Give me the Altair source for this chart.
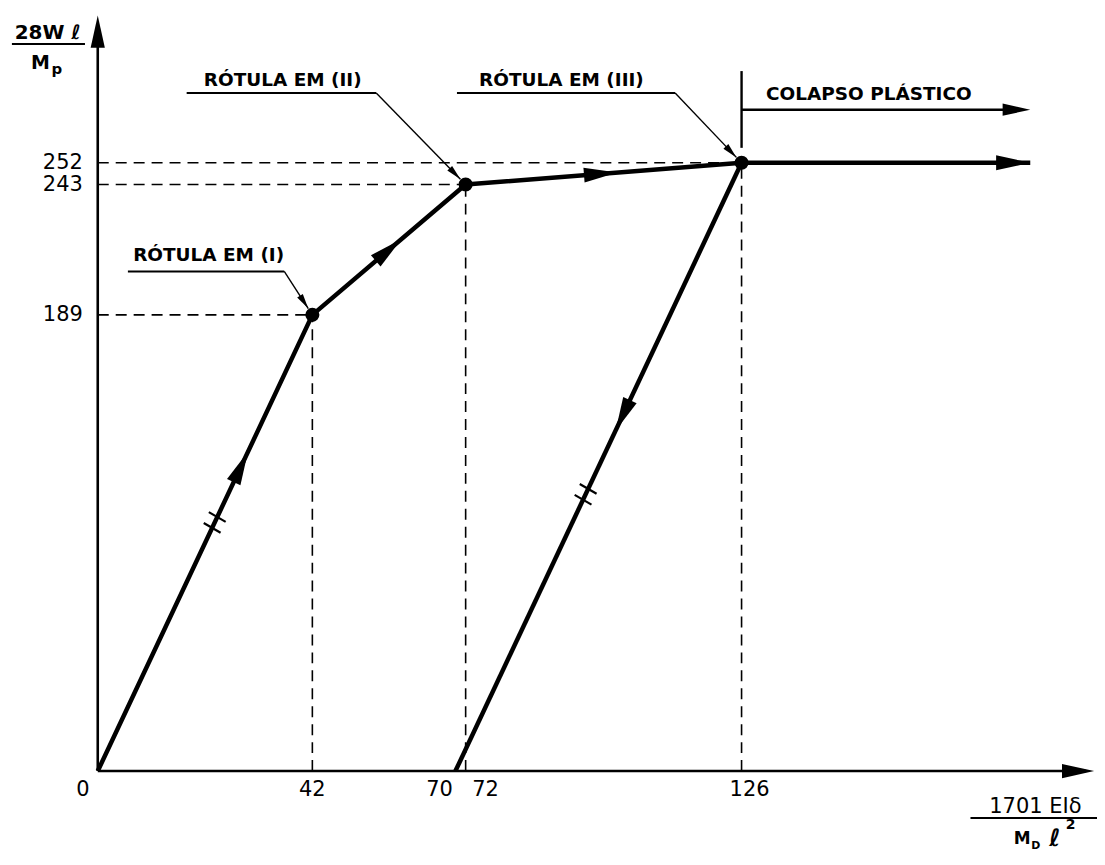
import altair as alt
import pandas as pd
import numpy as np

# ---------------- data ----------------
load_x = [0, 42, 72, 126, 182.5]          # loading path (hinges I, II, III, then plastic collapse)
load_y = [0, 189, 243, 252, 252]
unload_x = [126, 70]                       # elastic unloading line
unload_y = [252, 0]
hinge_x = [42, 72, 126]
hinge_y = [189, 243, 252]
x_ticks = [0, 42, 70, 72, 126]
x_tick_labels = ["0", "42", "70", "72", "126"]
y_ticks = [189, 243, 252]
y_tick_labels = ["189", "243", "252"]
hinge_labels = ["RÓTULA EM (I)", "RÓTULA EM (II)", "RÓTULA EM (III)"]
collapse_label = "COLAPSO PLÁSTICO"
x_axis_end = 195
y_axis_end = 313
collapse_level = 274

# ---------------- layout / style ----------------
X_MAX, Y_MAX = 194, 314
W, H = 994, 760
SX, SY = W / X_MAX, H / Y_MAX
PAD = {"left": 90, "top": 4, "right": 8, "bottom": 82}
FONT = "DejaVu Sans"
ARROW = "M0,0L-0.42,1.9L0.42,1.9Z"      # tip at the anchor point
SLASH = "M-1,0L1,0"

xs = alt.Scale(domain=[0, X_MAX], nice=False, zero=False)
ys = alt.Scale(domain=[0, Y_MAX], nice=False, zero=False)


def px2x(p):
    return p / SX


def px2y(p):
    return p / SY


def ang(dx, dy):
    return float(np.degrees(np.arctan2(dx * SX, dy * SY)) % 360)


def rules(df, **kw):
    return alt.Chart(df).mark_rule(color="black", **kw).encode(
        x=alt.X("x:Q", scale=xs, axis=None), y=alt.Y("y:Q", scale=ys, axis=None),
        x2="x2:Q", y2="y2:Q")


def texts(df, **kw):
    base = dict(font=FONT, color="black", align="center", baseline="middle")
    base.update(kw)
    return alt.Chart(df).mark_text(**base).encode(
        x=alt.X("x:Q", scale=xs, axis=None), y=alt.Y("y:Q", scale=ys, axis=None), text="t:N")


layers = []

# dashed guide lines
g = []
for hx, hy in zip(hinge_x, hinge_y):
    g.append(dict(x=0, y=hy, x2=hx, y2=hy))
    g.append(dict(x=hx, y=0, x2=hx, y2=hy))
layers.append(rules(pd.DataFrame(g), strokeWidth=1.6, strokeDash=[11, 7]))

# axes
ax = pd.DataFrame([dict(x=0, y=0, x2=x_axis_end - px2x(8), y2=0),
                   dict(x=0, y=0, x2=0, y2=y_axis_end - px2y(8))])
layers.append(rules(ax, strokeWidth=2.6))

# loading path
ld = pd.DataFrame({"x": load_x, "y": load_y, "o": range(len(load_x))})
layers.append(alt.Chart(ld).mark_line(color="black", strokeWidth=4.5, strokeJoin="round").encode(
    x=alt.X("x:Q", scale=xs, axis=None), y=alt.Y("y:Q", scale=ys, axis=None), order="o:Q"))
# unloading
ul = pd.DataFrame({"x": unload_x, "y": unload_y, "o": range(len(unload_x))})
layers.append(alt.Chart(ul).mark_line(color="black", strokeWidth=4.5).encode(
    x=alt.X("x:Q", scale=xs, axis=None), y=alt.Y("y:Q", scale=ys, axis=None), order="o:Q"))

# hinge dots
layers.append(alt.Chart(pd.DataFrame({"x": hinge_x, "y": hinge_y})).mark_circle(
    color="black", size=200, opacity=1).encode(
    x=alt.X("x:Q", scale=xs, axis=None), y=alt.Y("y:Q", scale=ys, axis=None)))

# arrowheads along the path
ah = []
for (x0, y0, x1, y1, t) in [(0, 0, 42, 189, 0.70), (42, 189, 72, 243, 0.58),
                            (72, 243, 126, 252, 0.55), (126, 252, 70, 0, 0.44)]:
    ah.append(dict(x=x0 + t * (x1 - x0), y=y0 + t * (y1 - y0), a=ang(x1 - x0, y1 - y0), s=1250))
ah.append(dict(x=load_x[-1], y=load_y[-1], a=90.0, s=1300))
ah.append(dict(x=x_axis_end, y=0, a=90.0, s=1150))
ah.append(dict(x=0, y=y_axis_end, a=0.0, s=1150))
ah.append(dict(x=load_x[-1], y=collapse_level, a=90.0, s=850))

# hinge annotations (text, underline, leader)
ann_text = [(21.7, 213.6), (36.2, 286.3), (90.75, 286.3)]
ann_line = [(5.9, 36.5, 207.0), (17.4, 54.5, 280.9), (70.3, 113.0, 280.9)]
ul_rows, ld_rows, tx_rows = [], [], []
for lab, (tx, ty), (ua, ub, uy), hx, hy in zip(hinge_labels, ann_text, ann_line, hinge_x, hinge_y):
    tx_rows.append(dict(x=tx, y=ty, t=lab))
    ul_rows.append(dict(x=ua, y=uy, x2=ub, y2=uy))
    dxp, dyp = (hx - ub) * SX, (hy - uy) * SY
    L = np.hypot(dxp, dyp)
    tipx, tipy = hx - px2x(7.5 * dxp / L), hy - px2y(7.5 * dyp / L)
    ld_rows.append(dict(x=ub, y=uy, x2=tipx, y2=tipy))
    ah.append(dict(x=tipx, y=tipy, a=ang(hx - ub, hy - uy), s=260))

layers.append(rules(pd.DataFrame(ul_rows), strokeWidth=2))
layers.append(rules(pd.DataFrame(ld_rows), strokeWidth=1.4))
layers.append(texts(pd.DataFrame(tx_rows), fontSize=18.5, fontWeight="bold"))

# plastic collapse marker
cl = pd.DataFrame([dict(x=126, y=258.2, x2=126, y2=290.0),
                   dict(x=126, y=collapse_level, x2=load_x[-1] - px2x(10), y2=collapse_level)])
layers.append(rules(cl, strokeWidth=2.4))
layers.append(texts(pd.DataFrame([dict(x=130.8, y=280.5, t=collapse_label)]),
                    fontSize=18.5, fontWeight="bold", align="left"))

# double-slash marks
sl = []
for (x0, y0, x1, y1, t) in [(0, 0, 42, 189, 0.545), (126, 252, 70, 0, 0.545)]:
    cx, cy = x0 + t * (x1 - x0), y0 + t * (y1 - y0)
    dxp, dyp = (x1 - x0) * SX, (y1 - y0) * SY
    L = np.hypot(dxp, dyp)
    for k in (-1, 1):
        sl.append(dict(x=cx + px2x(k * 6 * dxp / L), y=cy + px2y(k * 6 * dyp / L), a=30.0))
layers.append(alt.Chart(pd.DataFrame(sl)).mark_point(
    shape=SLASH, filled=False, color="black", strokeWidth=2.2, size=380, opacity=1).encode(
    x=alt.X("x:Q", scale=xs, axis=None), y=alt.Y("y:Q", scale=ys, axis=None),
    angle=alt.Angle("a:Q", scale=None)))

layers.append(alt.Chart(pd.DataFrame(ah)).mark_point(
    shape=ARROW, filled=True, color="black", opacity=1, strokeWidth=0).encode(
    x=alt.X("x:Q", scale=xs, axis=None), y=alt.Y("y:Q", scale=ys, axis=None),
    angle=alt.Angle("a:Q", scale=None), size=alt.Size("s:Q", scale=None)))

# tick labels
X_LABEL_DX_PX = [-15, 0, -16, 20, 8]
xl = pd.DataFrame({"x": [v + px2x(d) for v, d in zip(x_ticks, X_LABEL_DX_PX)],
                   "y": [-px2y(19)] * len(x_ticks), "t": x_tick_labels})
layers.append(texts(xl, fontSize=21))
yl = pd.DataFrame({"x": [-px2x(15)] * len(y_ticks), "y": y_ticks, "t": y_tick_labels})
layers.append(texts(yl, fontSize=21, align="right"))

# axis titles
yt = pd.DataFrame([dict(x=-9.8, y=305.7, t="28W ℓ")])
layers.append(texts(yt, fontSize=20, fontWeight="bold"))
layers.append(rules(pd.DataFrame([dict(x=-16.8, y=301.2, x2=-2.5, y2=301.2)]), strokeWidth=2))
layers.append(texts(pd.DataFrame([dict(x=-11.2, y=293.3, t="M")]), fontSize=19, fontWeight="bold"))
layers.append(texts(pd.DataFrame([dict(x=-8.0, y=290.9, t="p")]), fontSize=15, fontWeight="bold"))

xt = pd.DataFrame([dict(x=183.5, y=-14.9, t="1701 EIδ")])
layers.append(texts(xt, fontSize=21))
layers.append(rules(pd.DataFrame([dict(x=170.8, y=-19.4, x2=196.0, y2=-19.4)]), strokeWidth=2))
layers.append(texts(pd.DataFrame([dict(x=180.9, y=-28.1, t="M")]), fontSize=17, fontWeight="bold"))
layers.append(texts(pd.DataFrame([dict(x=183.6, y=-31.0, t="D")]), fontSize=11, fontWeight="bold"))
layers.append(texts(pd.DataFrame([dict(x=187.3, y=-28.1, t="ℓ")]), fontSize=24, fontWeight="bold"))
layers.append(texts(pd.DataFrame([dict(x=190.4, y=-22.3, t="2")]), fontSize=14, fontWeight="bold"))

chart = alt.layer(*layers).properties(
    width=W, height=H, padding=PAD, autosize=alt.AutoSizeParams(type="none"),
    background="white",
).configure_view(stroke=None)

chart.save("out.html", embed_options={"renderer": "svg", "actions": False})
